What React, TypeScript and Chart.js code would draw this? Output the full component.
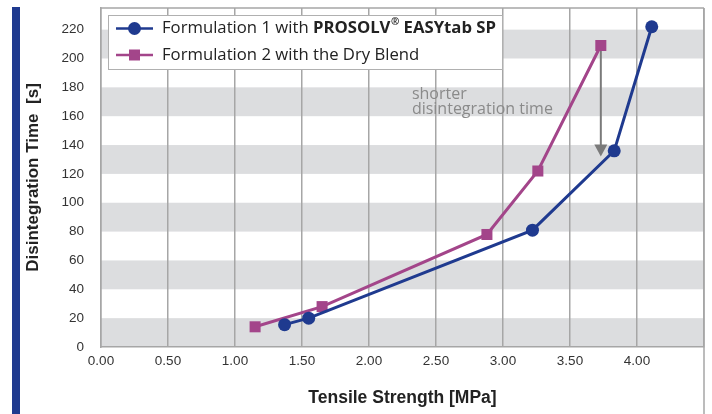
import React, { useEffect, useRef } from 'react';
import { Chart, registerables } from 'chart.js';

Chart.register(...registerables);

// ---- data ----
const series1X = [1.37, 1.55, 3.22, 3.83, 4.11];
const series1Y = [15.5, 20, 81, 136, 222];
const series2X = [1.15, 1.65, 2.88, 3.26, 3.73];
const series2Y = [14, 28, 78, 122, 209];
const legendPlain = ['Formulation 1 with ', 'Formulation 2 with the Dry Blend'];
const legendBoldMain = ['PROSOLV', ''];
const legendBoldSup = ['®', ''];
const legendBoldTail = [' EASYtab SP', ''];
const xTitle = 'Tensile Strength [MPa]';
const yTitle = 'Disintegration Time  [s]';
const annotationLines = ['shorter', 'disintegration time'];
const xMin = 0;
const xMax = 4.5;
const xStep = 0.5;
const xLastLabel = 4.0;
const yMin = 0;
const yMax = 235;
const yStep = 20;
const yLastLabel = 220;
const arrowX = 3.73;
const arrowFromY = 209;
const arrowToY = 132;
const annotX = 2.32;
const annotY = 175;

const BLUE = '#1f3a8f';
const MAGENTA = '#a3458a';
const GRID = '#a6a6a6';
const BAND = '#dcdddf';
const TEXT_FONT = "'Open Sans', 'Liberation Sans', sans-serif";
const TICK_FONT = "'Liberation Sans', Arial, sans-serif";

const styles = ['circle', 'rect'];

const decor = {
  id: 'decor',
  beforeDraw(chart: any) {
    const { ctx, chartArea: a } = chart;
    const y = chart.scales.y;
    ctx.save();
    ctx.fillStyle = BLUE;
    ctx.fillRect(12, 7, 8, chart.height - 7);
    ctx.fillStyle = BAND;
    for (let v = yMin; v + yStep <= yLastLabel; v += 2 * yStep) {
      const t = y.getPixelForValue(v + yStep);
      const b = y.getPixelForValue(v);
      ctx.fillRect(a.left, t, a.right - a.left, b - t);
    }
    ctx.restore();
  },
  beforeDatasetsDraw(chart: any) {
    const { ctx } = chart;
    const x = chart.scales.x;
    const y = chart.scales.y;
    ctx.save();
    // annotation text
    ctx.fillStyle = '#8a8a8a';
    ctx.font = `16px ${TEXT_FONT}`;
    ctx.textBaseline = 'middle';
    ctx.textAlign = 'left';
    const tx = x.getPixelForValue(annotX);
    const ty = y.getPixelForValue(annotY);
    annotationLines.forEach((l, i) => ctx.fillText(l, tx, ty + i * 15));
    // arrow
    const ax = x.getPixelForValue(arrowX);
    const ay0 = y.getPixelForValue(arrowFromY);
    const ay1 = y.getPixelForValue(arrowToY);
    ctx.strokeStyle = '#7a7a7a';
    ctx.fillStyle = '#7a7a7a';
    ctx.lineWidth = 2;
    ctx.beginPath();
    ctx.moveTo(ax, ay0);
    ctx.lineTo(ax, ay1 - 10);
    ctx.stroke();
    ctx.beginPath();
    ctx.moveTo(ax - 6.5, ay1 - 12);
    ctx.lineTo(ax + 6.5, ay1 - 12);
    ctx.lineTo(ax, ay1);
    ctx.closePath();
    ctx.fill();
    ctx.restore();
  },
  afterDraw(chart: any) {
    const { ctx, chartArea: a } = chart;
    ctx.save();
    ctx.strokeStyle = GRID;
    ctx.lineWidth = 1.5;
    ctx.beginPath();
    ctx.moveTo(a.left, a.top);
    ctx.lineTo(a.right, a.top);
    ctx.moveTo(a.right, a.top);
    ctx.lineTo(a.right, chart.height);
    ctx.stroke();

    // legend
    const bx = 108.5, by = 15.5, bw = 394, bh = 54;
    ctx.fillStyle = '#ffffff';
    ctx.fillRect(bx, by, bw, bh);
    ctx.strokeStyle = '#b0b0b0';
    ctx.lineWidth = 1;
    ctx.strokeRect(bx, by, bw, bh);
    chart.data.datasets.forEach((ds: any, i: number) => {
      const cy = 28.5 + i * 26.5;
      ctx.strokeStyle = ds.borderColor;
      ctx.lineWidth = 2.5;
      ctx.beginPath();
      ctx.moveTo(116, cy);
      ctx.lineTo(153, cy);
      ctx.stroke();
      ctx.fillStyle = ds.borderColor;
      if (styles[i] === 'circle') {
        ctx.beginPath();
        ctx.arc(134.5, cy, 6.5, 0, Math.PI * 2);
        ctx.fill();
      } else {
        ctx.fillRect(134.5 - 5.5, cy - 5.5, 11, 11);
      }
      ctx.fillStyle = '#222222';
      ctx.textBaseline = 'middle';
      ctx.textAlign = 'left';
      let tx = 162;
      ctx.font = `16.7px ${TEXT_FONT}`;
      ctx.fillText(legendPlain[i], tx, cy);
      tx += ctx.measureText(legendPlain[i]).width;
      if (legendBoldMain[i]) {
        ctx.font = `bold 16.7px ${TEXT_FONT}`;
        ctx.fillText(legendBoldMain[i], tx, cy);
        tx += ctx.measureText(legendBoldMain[i]).width;
        ctx.font = `bold 10px ${TEXT_FONT}`;
        ctx.fillText(legendBoldSup[i], tx + 0.5, cy - 6);
        tx += ctx.measureText(legendBoldSup[i]).width + 0.5;
        ctx.font = `bold 16.7px ${TEXT_FONT}`;
        ctx.fillText(legendBoldTail[i], tx, cy);
      }
    });
    ctx.restore();
  },
};

export default function App() {
  const ref = useRef<HTMLCanvasElement | null>(null);
  useEffect(() => {
    if (!ref.current) return;
    const chart = new Chart(ref.current, {
      type: 'line',
      data: {
        datasets: [
          {
            label: legendPlain[0] + legendBoldMain[0] + legendBoldSup[0] + legendBoldTail[0],
            data: series1X.map((v, i) => ({ x: v, y: series1Y[i] })),
            borderColor: BLUE,
            backgroundColor: BLUE,
            borderWidth: 3,
            pointStyle: 'circle',
            pointRadius: 6.5,
            pointHoverRadius: 6.5,
            pointBorderWidth: 0,
            tension: 0,
          },
          {
            label: legendPlain[1],
            data: series2X.map((v, i) => ({ x: v, y: series2Y[i] })),
            borderColor: MAGENTA,
            backgroundColor: MAGENTA,
            borderWidth: 3,
            pointStyle: 'rect',
            pointRadius: 7.8,
            pointHoverRadius: 7.8,
            pointBorderWidth: 0,
            tension: 0,
          },
        ],
      },
      options: {
        animation: false,
        responsive: true,
        maintainAspectRatio: false,
        layout: { padding: { left: 20, top: 8, right: 8, bottom: 0 } },
        plugins: { legend: { display: false }, tooltip: { enabled: false } },
        scales: {
          x: {
            type: 'linear',
            min: xMin,
            max: xMax,
            afterFit: (s: any) => { s.height = 67; s.paddingLeft = 0; s.paddingRight = 0; },
            ticks: {
              stepSize: xStep,
              padding: 6,
              color: '#333333',
              font: { family: TICK_FONT, size: 13.5 },
              callback: (v: any) => (Number(v) <= xLastLabel + 1e-9 ? Number(v).toFixed(2) : ''),
              maxRotation: 0,
            },
            grid: { color: GRID, lineWidth: 1.5, drawTicks: false },
            border: { color: GRID, width: 1.5 },
            title: {
              display: true,
              text: xTitle,
              color: '#222222',
              font: { family: TICK_FONT, size: 17.5, weight: 'bold' },
              padding: { top: 0, bottom: 5 },
            },
          },
          y: {
            type: 'linear',
            min: yMin,
            max: yMax,
            afterFit: (s: any) => { s.width = 81; s.paddingTop = 0; s.paddingBottom = 0; },
            afterBuildTicks: (s: any) => {
              s.ticks = s.ticks.filter((t: any) => t.value % yStep === 0 && t.value <= yLastLabel);
            },
            ticks: {
              stepSize: yStep,
              padding: 9,
              color: '#333333',
              font: { family: TICK_FONT, size: 13.5 },
            },
            grid: { display: false },
            border: { color: GRID, width: 1.5 },
            title: {
              display: true,
              text: yTitle,
              color: '#222222',
              font: { family: TICK_FONT, size: 17, weight: 'bold' },
              padding: { top: 3, bottom: 0 },
            },
          },
        },
      },
      plugins: [decor],
    });
    return () => chart.destroy();
  }, []);
  return (
    <div style={{ position: 'absolute', left: 0, top: 0, width: 712, height: 414, background: '#fff' }}>
      <canvas ref={ref} />
    </div>
  );
}
